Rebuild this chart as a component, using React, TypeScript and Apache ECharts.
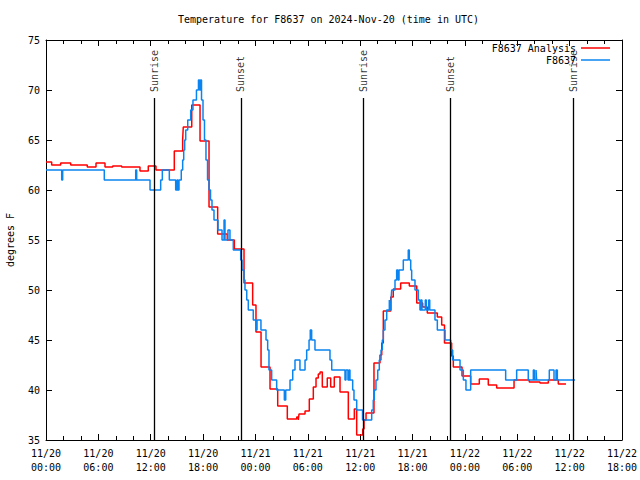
import React, { useEffect, useRef } from "react";
import * as echarts from "echarts";

const FONT = "'DejaVu Sans Mono', 'Liberation Mono', monospace";

const xTickLabels = [
  "11/20\n00:00", "11/20\n06:00", "11/20\n12:00", "11/20\n18:00",
  "11/21\n00:00", "11/21\n06:00", "11/21\n12:00", "11/21\n18:00",
  "11/22\n00:00", "11/22\n06:00", "11/22\n12:00", "11/22\n18:00",
];

// hours since 2024-11-20 00:00 UTC
const redHours = [0, 0.65, 1.68, 2.83, 4.73, 5.73, 6.76, 7.64, 8.67, 10.77, 11.72, 12.6, 14.7, 15.66, 15.73, 16.7, 17.65, 18.68, 19.67, 20.77, 21.58, 22.69, 23.68, 24.06, 24.64, 25.67, 26.55, 27.65, 28.73, 28.91, 28.99, 29.68, 30.17, 30.63, 30.94, 31.2, 31.4, 31.66, 32.23, 32.62, 33.03, 33.69, 34.64, 35.33, 35.6, 36.29, 36.44, 36.67, 37.58, 38.27, 38.47, 38.65, 39.5, 39.79, 40.64, 41.63, 42.48, 43.16, 43.69, 44.84, 45.34, 45.66, 46.48, 46.67, 47.67, 48.66, 49.65, 50.68, 51.64, 53.63, 55.38, 56.6, 57.56, 58.7, 59.58];
const redTemps = [62.8, 62.5, 62.7, 62.5, 62.3, 62.7, 62.3, 62.4, 62.3, 61.9, 62.4, 62.0, 63.9, 65.1, 66.3, 68.5, 64.9, 58.3, 55.6, 55.0, 54.1, 50.7, 48.5, 45.8, 42.3, 40.1, 38.4, 37.1, 37.3, 37.0, 37.6, 37.9, 39.1, 40.3, 41.2, 41.6, 41.8, 40.3, 41.2, 40.3, 41.3, 39.8, 37.1, 38.1, 35.5, 36.1, 37.0, 37.7, 42.7, 43.5, 44.7, 47.9, 49.3, 50.1, 50.7, 50.4, 48.7, 48.3, 47.7, 47.3, 46.5, 44.7, 43.4, 42.3, 41.4, 40.6, 41.1, 40.5, 40.2, 41.0, 40.8, 40.7, 41.0, 40.6, 40.6];

const blueHours = [0, 1.8, 1.91, 6.68, 10.28, 10.39, 11.92, 13.14, 13.33, 14.13, 14.86, 15.01, 15.12, 15.24, 15.5, 15.66, 15.78, 15.89, 16.01, 16.24, 16.58, 16.84, 17.24, 17.47, 17.59, 17.7, 17.82, 17.99, 18.16, 18.33, 18.51, 18.68, 18.85, 19.02, 19.25, 19.71, 20.17, 20.4, 20.51, 20.85, 21.08, 21.46, 22.31, 22.46, 22.69, 22.8, 23.0, 23.18, 23.75, 24.06, 24.18, 24.63, 25.21, 25.4, 25.55, 25.86, 26.43, 27.31, 27.47, 27.96, 28.27, 28.53, 29.1, 29.68, 29.87, 30.14, 30.28, 30.44, 30.82, 32.54, 32.74, 34.26, 34.37, 34.6, 34.72, 34.83, 35.14, 35.29, 35.6, 36.27, 37.32, 37.5, 37.62, 37.81, 38.01, 38.19, 38.39, 38.54, 38.65, 38.84, 39.04, 39.34, 39.42, 39.53, 39.61, 39.99, 40.18, 40.33, 40.45, 40.94, 41.51, 41.63, 41.79, 41.9, 42.28, 42.66, 42.85, 42.97, 43.08, 43.46, 43.58, 43.85, 43.97, 44.57, 44.84, 45.72, 46.37, 46.6, 47.44, 47.82, 48.12, 48.66, 52.67, 53.93, 55.26, 55.84, 55.95, 56.15, 56.22, 57.67, 58.21, 58.44, 58.59, 60.61];
const blueTemps = [62, 61, 62, 61, 62, 61, 60, 61, 62, 61, 60, 61, 60, 61, 62, 63, 64, 65, 66, 67, 68, 69, 70, 71, 70, 71, 69, 67, 65, 63, 61, 60, 59, 58, 57, 56, 55, 57, 55, 56, 55, 54, 53, 52, 51, 50, 49, 48, 47, 46, 47, 46, 45, 44, 42, 41, 40, 39, 40, 41, 42, 43, 42, 43, 44, 45, 46, 45, 44, 43, 42, 41, 42, 41, 42, 41, 40, 39, 38, 37, 38, 39, 40, 41, 42, 43, 44, 45, 46, 47, 48, 49, 48, 49, 50, 51, 52, 51, 52, 53, 54, 53, 52, 51, 50, 49, 48, 49, 48, 49, 48, 49, 48, 47, 46, 45, 44, 43, 42, 41, 40, 42, 41, 42, 41, 42, 41, 42, 41, 42, 41, 42, 41, 41];

const sunHours = [12.4, 22.33, 36.35, 46.3, 60.41];
const sunNames = ["Sunrise", "Sunset", "Sunrise", "Sunset", "Sunrise"];

const SUN_LINE_TOP = 69.2;
const SUN_LABEL_BASE = 69.8;

function xAxisBase(position: "top" | "bottom", showLabels: boolean) {
  return {
    type: "value",
    position,
    min: 0,
    max: 66,
    interval: 6,
    axisLine: { show: true, onZero: false, lineStyle: { color: "#000", width: 1 } },
    axisTick: { show: true, inside: true, length: 6, lineStyle: { color: "#000" } },
    minorTick: { show: true, splitNumber: 3, length: 4, lineStyle: { color: "#000" } },
    splitLine: { show: false },
    minorSplitLine: { show: false },
    axisLabel: {
      show: showLabels,
      margin: 6,
      fontFamily: FONT,
      fontSize: 10,
      color: "#000",
      lineHeight: 14,
      formatter: (v: number) => xTickLabels[Math.round(v / 6)] ?? "",
    },
  };
}

function yAxisBase(position: "left" | "right", showLabels: boolean) {
  return {
    type: "value",
    position,
    min: 35,
    max: 75,
    interval: 5,
    name: showLabels ? "degrees F" : "",
    nameLocation: "middle",
    nameGap: 31,
    nameRotate: 90,
    nameTextStyle: { fontFamily: FONT, fontSize: 10, color: "#000" },
    axisLine: { show: true, onZero: false, lineStyle: { color: "#000", width: 1 } },
    axisTick: { show: true, inside: true, length: 6, lineStyle: { color: "#000" } },
    splitLine: { show: false },
    axisLabel: { show: showLabels, margin: 6, fontFamily: FONT, fontSize: 10, color: "#000" },
  };
}

export default function App() {
  const ref = useRef<HTMLDivElement>(null);
  useEffect(() => {
    if (!ref.current) return;
    const chart = echarts.init(ref.current, undefined, { renderer: "svg" });
    const red = redHours.map((h, i) => [h, redTemps[i]]);
    const blue = blueHours.map((h, i) => [h, blueTemps[i]]);
    chart.setOption({
      animation: false,
      backgroundColor: "#ffffff",
      textStyle: { fontFamily: FONT, fontSize: 10, color: "#000" },
      title: {
        text: "Temperature for F8637 on 2024-Nov-20 (time in UTC)",
        left: 178,
        top: 14,
        padding: 0,
        textStyle: { fontFamily: FONT, fontSize: 10, fontWeight: "normal", color: "#000" },
      },
      legend: {
        data: ["F8637 Analysis", "F8637"],
        orient: "vertical",
        right: 30,
        top: 43,
        align: "right",
        icon: "rect",
        itemWidth: 29,
        itemHeight: 1.5,
        itemGap: 2,
        padding: 0,
        selectedMode: false,
        textStyle: { fontFamily: FONT, fontSize: 10, color: "#000" },
      },
      grid: { left: 46, right: 18, top: 40, bottom: 40, containLabel: false, outerBoundsMode: "none" },
      xAxis: [xAxisBase("bottom", true), xAxisBase("top", false)],
      yAxis: [yAxisBase("left", true), yAxisBase("right", false)],
      series: [
        {
          name: "F8637 Analysis",
          type: "line",
          step: "end",
          data: red,
          showSymbol: false,
          color: "#ff0000",
          lineStyle: { color: "#ff0000", width: 1.5 },
          silent: true,
          z: 2,
        },
        {
          name: "F8637",
          type: "line",
          step: "end",
          data: blue,
          showSymbol: false,
          color: "#0a84f0",
          lineStyle: { color: "#0a84f0", width: 1.5 },
          silent: true,
          z: 3,
        },
        {
          name: "sun",
          type: "scatter",
          data: sunHours.map((h, i) => ({ value: [h, SUN_LABEL_BASE], name: sunNames[i] })),
          symbolSize: 0,
          silent: true,
          z: 4,
          label: {
            show: true,
            formatter: "{b}",
            position: "inside",
            rotate: 90,
            align: "left",
            verticalAlign: "middle",
            fontFamily: FONT,
            fontSize: 10,
            color: "#000",
          },
          markLine: {
            silent: true,
            symbol: ["none", "none"],
            label: { show: false },
            lineStyle: { color: "#000", width: 1.3, type: "solid" },
            emphasis: { disabled: true },
            data: sunHours.map((h) => [{ coord: [h, 35] }, { coord: [h, SUN_LINE_TOP] }]),
          },
        },
      ],
    });
    return () => chart.dispose();
  }, []);
  return (
    <div
      ref={ref}
      style={{ position: "fixed", left: 0, top: 0, width: 640, height: 480, background: "#fff" }}
    />
  );
}
